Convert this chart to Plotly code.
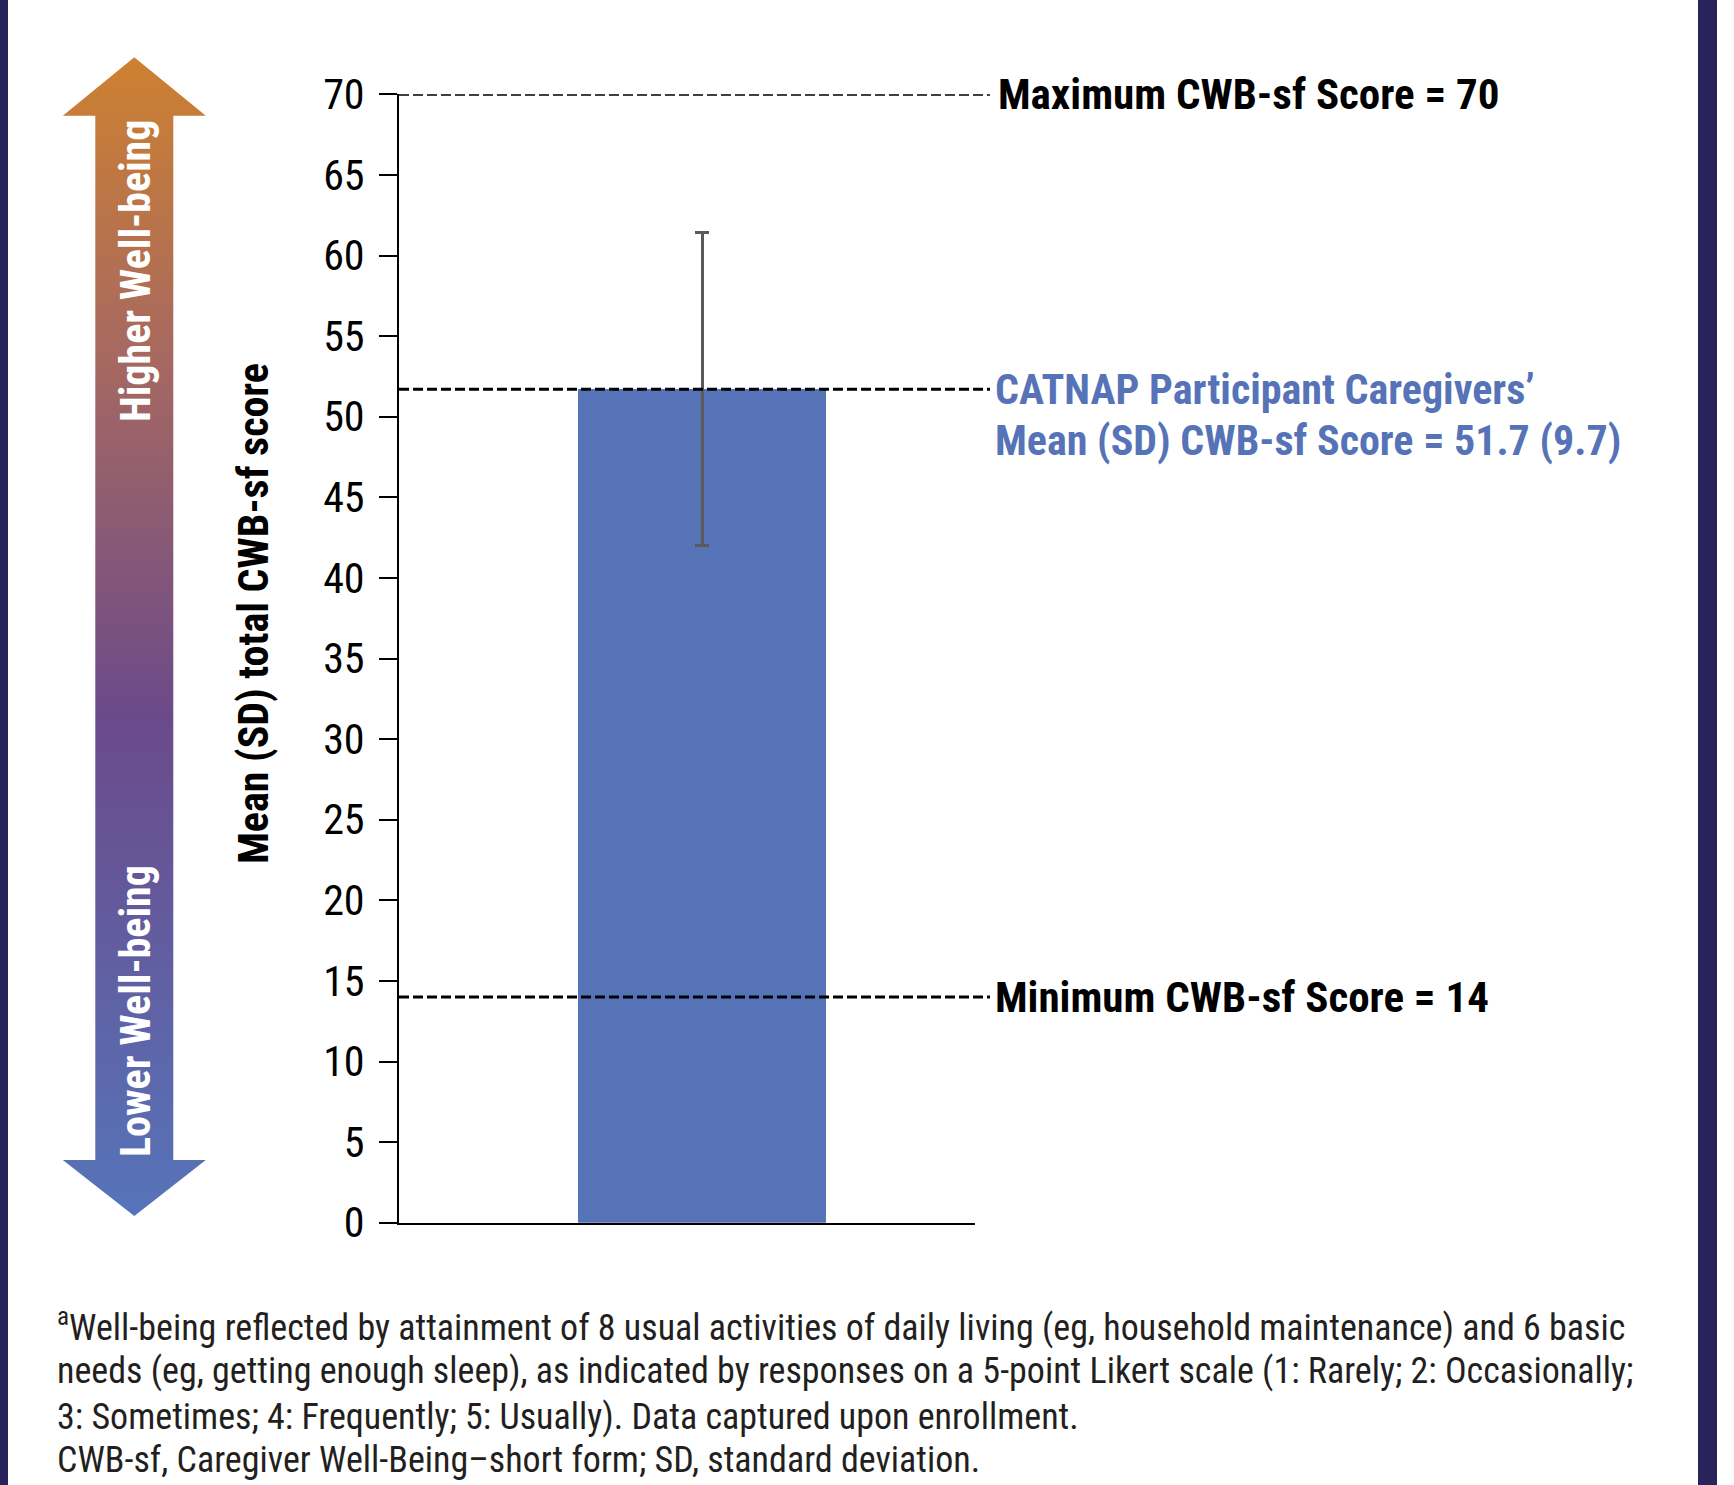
import plotly.graph_objects as go

# ---------------- data ----------------
categories = ["CATNAP Participant Caregivers"]
mean_scores = [51.7]
sd_scores = [9.7]
max_score = 70
min_score = 14
y_tick_values = [0, 5, 10, 15, 20, 25, 30, 35, 40, 45, 50, 55, 60, 65, 70]
max_label = "Maximum CWB-sf Score = 70"
min_label = "Minimum CWB-sf Score = 14"
mean_label_lines = ["CATNAP Participant Caregivers’", "Mean (SD) CWB-sf Score = 51.7 (9.7)"]
y_title = "Mean (SD) total CWB-sf score"
arrow_top_text = "Higher Well-being"
arrow_bottom_text = "Lower Well-being"
footnote_lines = [
    "<sup>a</sup>Well-being reflected by attainment of 8 usual activities of daily living (eg, household maintenance) and 6 basic",
    "needs (eg, getting enough sleep), as indicated by responses on a 5-point Likert scale (1: Rarely; 2: Occasionally;",
    "3: Sometimes; 4: Frequently; 5: Usually). Data captured upon enrollment.",
    "CWB-sf, Caregiver Well-Being–short form; SD, standard deviation.",
]

# ---------------- layout constants (pixels) ----------------
W, H = 1734, 1485
FONT = "Liberation Sans Narrow, Arial Narrow, Roboto Condensed, Roboto, sans-serif"
BLUE = "#5673B8"
NAVY = "#29235C"

def px(x):
    return x / W

def py(y):
    return 1 - y / H

AX_L, AX_R = 399, 975
AX_TOP, AX_BOT = 94.3, 1222.7
BAR_C, BAR_W = 702, 248
span = AX_R - AX_L
x_range = [-(BAR_C - AX_L) / span, (AX_R - BAR_C) / span]
bar_width = BAR_W / span

fig = go.Figure()

# gradient arrow (decoration) on a hidden pixel-space axis pair
ax_c, head_hw, shaft_hw = 134.3, 71.5, 39
tip_top, base_top, base_bot, tip_bot = 57.3, 115.7, 1160, 1216
arrow_x = [ax_c, ax_c + head_hw, ax_c + shaft_hw, ax_c + shaft_hw, ax_c + head_hw, ax_c,
           ax_c - head_hw, ax_c - shaft_hw, ax_c - shaft_hw, ax_c - head_hw, ax_c]
arrow_y = [tip_top, base_top, base_top, base_bot, base_bot, tip_bot,
           base_bot, base_bot, base_top, base_top, tip_top]
fig.add_trace(go.Scatter(
    x=arrow_x, y=arrow_y, xaxis="x2", yaxis="y2",
    mode="lines", line=dict(width=0), fill="toself",
    fillgradient=dict(type="vertical", start=tip_top, stop=tip_bot,
                      colorscale=[[0, "#CE8130"], [0.25, "#A8695F"], [0.57, "#6B4A8A"], [1, "#5674BA"]]),
    hoverinfo="skip", showlegend=False,
))

# bar with error bar
fig.add_trace(go.Bar(
    x=categories, y=mean_scores, width=[bar_width],
    marker=dict(color=BLUE, line=dict(width=0)),
    error_y=dict(type="data", array=sd_scores, visible=True, color="#5A5A5A", thickness=3, width=7),
    showlegend=False, hoverinfo="skip",
))

shapes = []
# reference dashed lines
for val in [max_score, mean_scores[0], min_score]:
    shapes.append(dict(type="line", xref="paper", yref="y", x0=px(AX_L), x1=px(990), y0=val, y1=val,
                       line=dict(color="black", width=3, dash="10px,4px"), layer="above"))
# frame bands
shapes.append(dict(type="rect", xref="paper", yref="paper", x0=0, x1=px(8), y0=0, y1=1,
                   fillcolor=NAVY, line=dict(width=0)))
shapes.append(dict(type="rect", xref="paper", yref="paper", x0=px(1698), x1=px(1717), y0=0, y1=1,
                   fillcolor=NAVY, line=dict(width=0)))

annotations = []
LBL_X = px(996)
annotations.append(dict(text=max_label, xref="paper", yref="y", x=LBL_X, y=max_score,
                        xanchor="left", yanchor="middle", showarrow=False,
                        font=dict(family=FONT, size=43, color="black", weight="bold")))
annotations.append(dict(text=min_label, xref="paper", yref="y", x=LBL_X - px(3), y=min_score,
                        xanchor="left", yanchor="middle", showarrow=False,
                        font=dict(family=FONT, size=43, color="black", weight="bold")))
for i, line in enumerate(mean_label_lines):
    annotations.append(dict(text=line, xref="paper", yref="y", x=LBL_X - px(3), y=mean_scores[0], yshift=-51 * i,
                            xanchor="left", yanchor="middle", showarrow=False,
                            font=dict(family=FONT, size=42, color=BLUE, weight="bold")))
annotations.append(dict(text=y_title, xref="paper", yref="paper", x=px(253), y=py(614),
                        xanchor="center", yanchor="middle", textangle=-90, showarrow=False,
                        font=dict(family=FONT, size=42, color="black", weight="bold")))
annotations.append(dict(text=arrow_top_text, xref="paper", yref="paper", x=px(135), y=py(271),
                        xanchor="center", yanchor="middle", textangle=-90, showarrow=False,
                        font=dict(family=FONT, size=42, color="white", weight="bold")))
annotations.append(dict(text=arrow_bottom_text, xref="paper", yref="paper", x=px(135), y=py(1011),
                        xanchor="center", yanchor="middle", textangle=-90, showarrow=False,
                        font=dict(family=FONT, size=42, color="white", weight="bold")))
for line, yc in zip(footnote_lines, [1325, 1371, 1417, 1460]):
    annotations.append(dict(text=line, xref="paper", yref="paper", x=px(55), y=py(yc),
                            xanchor="left", yanchor="middle", showarrow=False,
                            font=dict(family=FONT, size=36, color="#231F20")))

fig.update_layout(
    width=W, height=H,
    autosize=False,
    margin=dict(l=0, r=0, t=0, b=0, pad=0, autoexpand=False),
    paper_bgcolor="white", plot_bgcolor="rgba(0,0,0,0)",
    showlegend=False,
    bargap=0,
    xaxis=dict(domain=[px(AX_L), px(AX_R)], range=x_range, showticklabels=False, ticks="",
               showgrid=False, zeroline=False, showline=True, linecolor="black", linewidth=2,
               fixedrange=True, automargin=False),
    yaxis=dict(domain=[py(AX_BOT), py(AX_TOP)], range=[0, 70], tickvals=y_tick_values,
               ticks="outside", ticklen=18, tickwidth=2, tickcolor="black",
               showline=True, linecolor="black", linewidth=2, showgrid=False, zeroline=False,
               tickfont=dict(family=FONT, size=42, color="black"), ticklabelstandoff=6,
               fixedrange=True, automargin=False),
    xaxis2=dict(domain=[0, 1], range=[0, W], anchor="y2", visible=False, fixedrange=True, automargin=False),
    yaxis2=dict(domain=[0, 1], range=[H, 0], anchor="x2", visible=False, fixedrange=True, automargin=False),
    shapes=shapes,
    annotations=annotations,
)

fig.write_html(
    "out.html",
    config={"displayModeBar": False, "staticPlot": True},
    post_script="document.body.style.margin='0';document.body.style.overflow='hidden';",
)
